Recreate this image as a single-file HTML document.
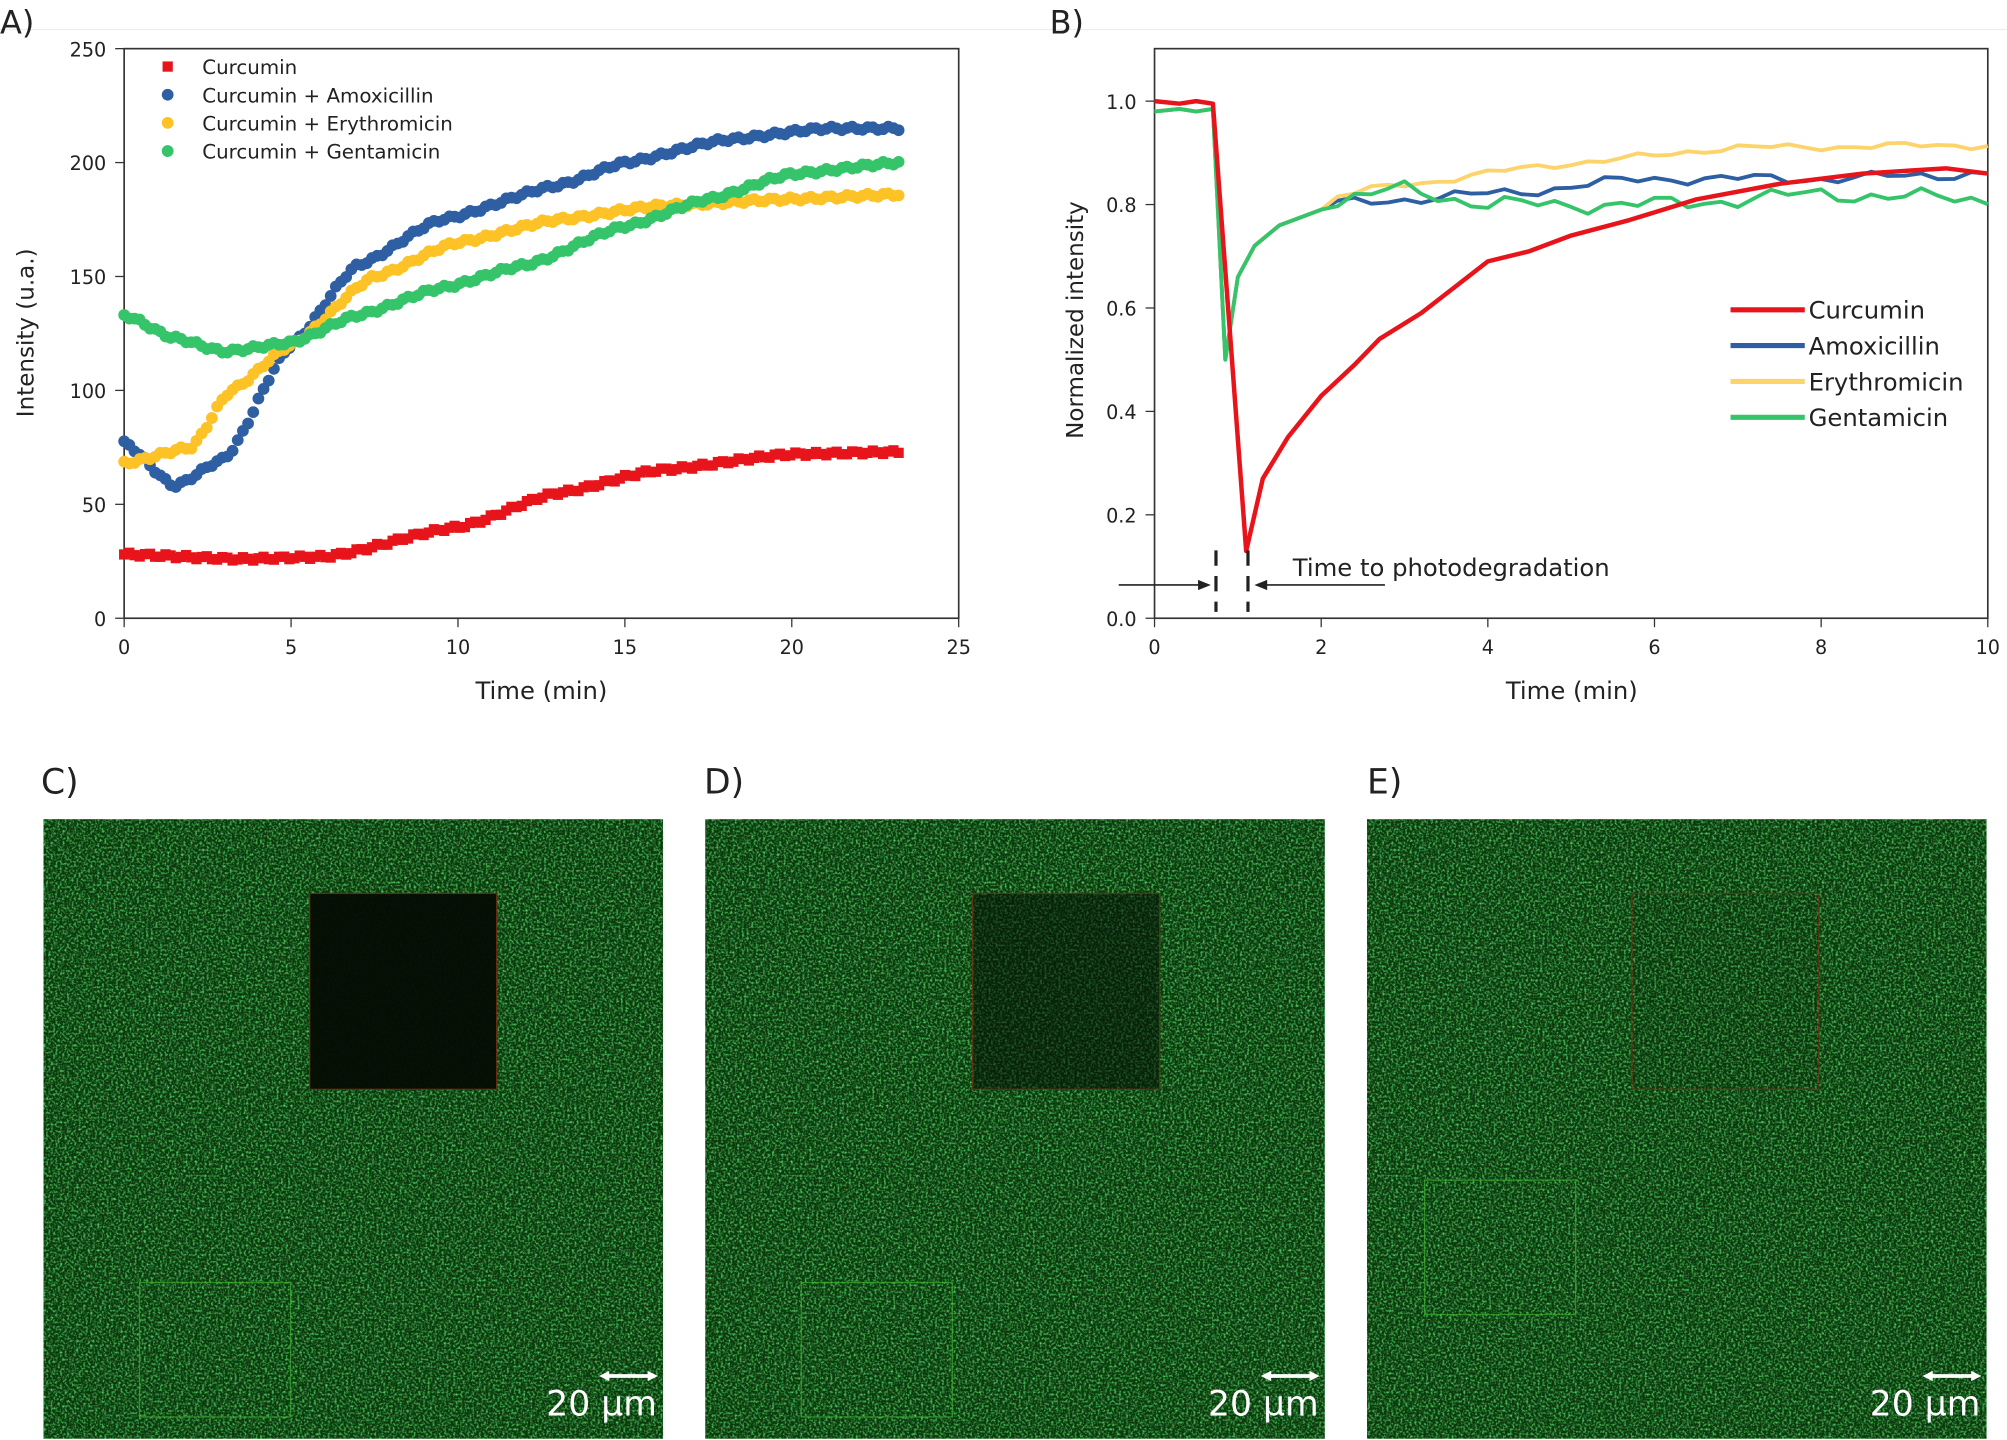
<!DOCTYPE html>
<html><head><meta charset="utf-8"><style>
html,body{margin:0;padding:0;background:#fff;}
svg{display:block;font-family:"DejaVu Sans","Liberation Sans",sans-serif;}
</style></head><body>
<svg id="s" width="2007" height="1440" viewBox="0 0 1568 1125" xmlns="http://www.w3.org/2000/svg">
<defs>
<filter id="noise" x="0" y="0" width="100%" height="100%">
<feTurbulence type="fractalNoise" baseFrequency="0.55" numOctaves="2" seed="3" result="t"/>
<feColorMatrix in="t" type="matrix" values="0 0 0 0 0.05  0 0 0 0 0  0 0 0 0 0.03  0 1.9 0 0 -0.6" result="g"/>
<feColorMatrix in="t" type="matrix" values="0 0 0 0 0.1  0 0 0 0 0.75  0 0 0 0 0.15  2.2 0 0 0 -0.95"/>
</filter>
</defs>
<line x1="0" y1="23" x2="1568" y2="23" stroke="#eee"/>
<g id="A"></g><g id="B"></g>
<g font-size="19" fill="#222">
<text x="0" y="26" font-size="25">A)</text>
<text x="820" y="26" font-size="25">B)</text>
<text x="32" y="620" font-size="27">C)</text>
<text x="550" y="620" font-size="27">D)</text>
<text x="1068" y="620" font-size="27">E)</text>
</g>
<g id="M"></g>
</svg>
<script>
const NS="http://www.w3.org/2000/svg";
function el(p,t,a,txt){const e=document.createElementNS(NS,t);for(const k in a)e.setAttribute(k,a[k]);if(txt!==undefined)e.textContent=txt;p.appendChild(e);return e;}
function interp(pts,t){for(let i=0;i<pts.length-1;i++){if(t<=pts[i+1][0]){const[a,b]=[pts[i],pts[i+1]];const f=(t-a[0])/(b[0]-a[0]);const s=f*f*(3-2*f);return a[1]+(b[1]-a[1])*(0.5*f+0.5*s);}}return pts[pts.length-1][1];}
const A=document.getElementById('A');
const ax=t=>97+t*26.08, ay=v=>483-v*1.78;
el(A,'rect',{x:97,y:38,width:652,height:445,fill:'none',stroke:'#333','stroke-width':1.3});
for(let i=0;i<=5;i++){const x=ax(i*5);el(A,'line',{x1:x,y1:483,x2:x,y2:490,stroke:'#333'});el(A,'text',{x:x,y:511,'font-size':15,'text-anchor':'middle',fill:'#222'},String(i*5));}
for(let i=0;i<=5;i++){const y=ay(i*50);el(A,'line',{x1:90,y1:y,x2:97,y2:y,stroke:'#333'});el(A,'text',{x:83,y:y+6,'font-size':15,'text-anchor':'end',fill:'#222'},String(i*50));}
el(A,'text',{x:423,y:546,'font-size':19,'text-anchor':'middle',fill:'#222'},'Time (min)');
el(A,'text',{x:26,y:260,'font-size':18,'text-anchor':'middle',fill:'#222',transform:'rotate(-90 26 260)'},'Intensity (u.a.)');
const SA=[
{c:'#e8141b',sq:1,p:[[0,28],[3.5,26],[6,27],[10,40],[13,55],[16,65],[20,72],[23.2,73]]},
{c:'#2e5fa3',p:[[0,77],[1.5,58],[3,70],[5,120],[7,155],[9.5,175],[13,190],[15,200],[18,210],[21,215],[23.2,215]]},
{c:'#fcc226',p:[[0,68],[2,75],[3.2,100],[5,120],[7.5,150],[10,165],[13,175],[16,181],[20,184],[23.2,186]]},
{c:'#35c46a',p:[[0,133],[1.5,123],[3,117],[5,121],[7,133],[9.5,145],[12,155],[15,172],[17.5,184],[20,195],[23.2,200]]}];
SA.forEach((s,k)=>{for(let i=0;i<=150;i++){const t=i*23.2/150;const v=interp(s.p,t)+Math.sin(i*1.7+k)*0.8;
 if(s.sq)el(A,'rect',{x:ax(t)-4,y:ay(v)-4,width:8,height:8,fill:s.c});else el(A,'circle',{cx:ax(t),cy:ay(v),r:4.6,fill:s.c});}});
const LA=['Curcumin','Curcumin + Amoxicillin','Curcumin + Erythromicin','Curcumin + Gentamicin'];
LA.forEach((n,i)=>{const y=52+i*22;if(i==0)el(A,'rect',{x:127,y:y-4,width:8,height:8,fill:SA[0].c});else el(A,'circle',{cx:131,cy:y,r:4.6,fill:SA[i].c});el(A,'text',{x:158,y:y+6,'font-size':15.5,fill:'#222'},n);});
const B=document.getElementById('B');
const bx=t=>902+t*65.1, by=v=>483-v*404;
el(B,'rect',{x:902,y:38,width:651,height:445,fill:'none',stroke:'#333','stroke-width':1.3});
for(let i=0;i<=5;i++){const x=bx(i*2);el(B,'line',{x1:x,y1:483,x2:x,y2:490,stroke:'#333'});el(B,'text',{x:x,y:511,'font-size':15,'text-anchor':'middle',fill:'#222'},String(i*2));}
for(let i=0;i<=5;i++){const y=by(i*0.2);el(B,'line',{x1:895,y1:y,x2:902,y2:y,stroke:'#333'});el(B,'text',{x:888,y:y+6,'font-size':15,'text-anchor':'end',fill:'#222'},(i*0.2).toFixed(1));}
el(B,'text',{x:1228,y:546,'font-size':19,'text-anchor':'middle',fill:'#222'},'Time (min)');
el(B,'text',{x:846,y:250,'font-size':18,'text-anchor':'middle',fill:'#222',transform:'rotate(-90 846 250)'},'Normalized intensity');
function line(p,c,w){let d='';p.forEach((q,i)=>d+=(i?'L':'M')+bx(q[0]).toFixed(1)+' '+by(q[1]).toFixed(1));el(B,'path',{d:d,fill:'none',stroke:c,'stroke-width':w,'stroke-linejoin':'round'});}
function gen(base,wig,seed){const p=[[0,0.98],[0.3,0.985],[0.5,0.98],[0.7,0.985],[0.85,0.5],[1.0,0.66],[1.2,0.72],[1.5,0.76],[2,0.79]];for(let t=2.2;t<=10.01;t+=0.2){p.push([t,interp(base,t)+Math.sin(t*7+seed)*wig*Math.cos(t*3.1+seed*2)]);}return p;}
line(gen([[2,0.8],[4,0.82],[6,0.85],[8,0.85],[10,0.86]],0.012,1),'#2e5fa3',3);
line(gen([[2,0.81],[3,0.84],[5,0.88],[7,0.91],[10,0.915]],0.008,2),'#fdd46c',3);
line(gen([[2,0.8],[3,0.83],[4,0.8],[6,0.8],[8,0.82],[10,0.81]],0.018,3),'#35c46a',3);
line([[0,1],[0.3,0.995],[0.5,1],[0.7,0.995],[1.1,0.13],[1.3,0.27],[1.6,0.35],[2,0.43],[2.4,0.49],[2.7,0.54],[3.2,0.59],[3.6,0.64],[4,0.69],[4.5,0.71],[5,0.74],[5.7,0.77],[6.5,0.81],[7.5,0.84],[8.5,0.86],[9.5,0.87],[10,0.86]],'#e8141b',3.5);
el(B,'line',{x1:950,y1:430,x2:950,y2:478,stroke:'#222','stroke-width':2.5,'stroke-dasharray':'12 8'});
el(B,'line',{x1:975,y1:430,x2:975,y2:478,stroke:'#222','stroke-width':2.5,'stroke-dasharray':'12 8'});
el(B,'line',{x1:874,y1:457,x2:944,y2:457,stroke:'#222','stroke-width':1.3});
el(B,'path',{d:'M946 457 L936 453 L936 461Z',fill:'#222'});
el(B,'line',{x1:983,y1:457,x2:1082,y2:457,stroke:'#222','stroke-width':1.3});
el(B,'path',{d:'M980 457 L990 453 L990 461Z',fill:'#222'});
el(B,'text',{x:1010,y:450,'font-size':19,fill:'#222'},'Time to photodegradation');
const LB=[['Curcumin','#e8141b'],['Amoxicillin','#2e5fa3'],['Erythromicin','#fdd46c'],['Gentamicin','#35c46a']];
LB.forEach((q,i)=>{const y=242+i*28;el(B,'line',{x1:1352,y1:y,x2:1410,y2:y,stroke:q[1],'stroke-width':4});el(B,'text',{x:1413,y:y+7,'font-size':19,fill:'#222'},q[0]);});
const M=document.getElementById('M');
[[34,242,'#050d04',0.97],[551,760,'#061005',0.55],[1068,1275,'#0a1a08',0.08]].forEach((m,i)=>{const x=m[0];
 el(M,'rect',{x:x,y:640,width:484,height:484,fill:'#0b380d'});
 el(M,'rect',{x:x,y:640,width:484,height:484,fill:'#000',filter:'url(#noise)'});
 el(M,'rect',{x:m[1],y:698,width:146,height:153,fill:m[2],opacity:m[3]});
 el(M,'rect',{x:m[1],y:698,width:146,height:153,fill:'none',stroke:'#7a2a10','stroke-width':1,opacity:0.8});
 const gx=i==2?x+45:x+75, gy=i==2?922:1002;
 el(M,'rect',{x:gx,y:gy,width:118,height:105,fill:'none',stroke:'#3fb030','stroke-width':1,opacity:0.7});
 el(M,'line',{x1:x+438,y1:1075,x2:x+476,y2:1075,stroke:'#fff','stroke-width':3});
 el(M,'path',{d:`M${x+434} 1075 L${x+442} 1071 L${x+442} 1079Z M${x+480} 1075 L${x+472} 1071 L${x+472} 1079Z`,fill:'#fff'});
 el(M,'text',{x:x+436,y:1106,'font-size':27,fill:'#fff','text-anchor':'middle'},'20 µm');
});
</script>
</body></html>
